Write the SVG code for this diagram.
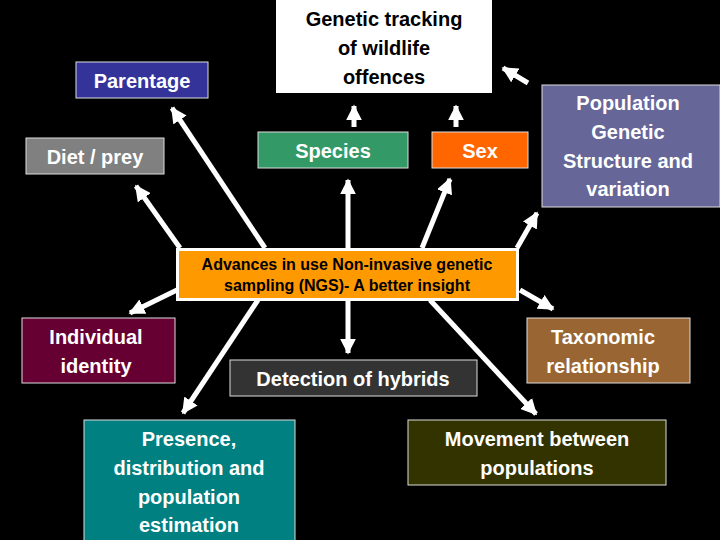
<svg xmlns="http://www.w3.org/2000/svg" width="720" height="540" viewBox="0 0 720 540">
<defs>
<marker id="ah" viewBox="0 0 10 10" refX="9" refY="5" markerWidth="3.2" markerHeight="3.2" orient="auto" markerUnits="strokeWidth"><path d="M0,0L10,5L0,10z" fill="#fff"/></marker>
<style>
.b{stroke:#ddd;stroke-width:1}
.t{font-family:"Liberation Sans",Arial,sans-serif;font-weight:bold;font-size:20px;text-anchor:middle;fill:#fff}
.c line{stroke:#fff;stroke-width:5;marker-end:url(#ah)}
</style>
</defs>
<rect width="720" height="540" fill="#000"/>
<g class="c" id="connectors">
<line x1="265" y1="248" x2="172" y2="108"/>
<line x1="180" y1="248" x2="136" y2="186"/>
<line x1="348" y1="248" x2="348" y2="180"/>
<line x1="422" y1="248" x2="450" y2="179"/>
<line x1="354" y1="127" x2="354" y2="106"/>
<line x1="456" y1="127" x2="456" y2="106"/>
<line x1="517" y1="248" x2="537" y2="213"/>
<line x1="528" y1="83" x2="503" y2="68"/>
<line x1="177" y1="290" x2="130" y2="313"/>
<line x1="258" y1="300" x2="183" y2="413"/>
<line x1="348" y1="300" x2="348" y2="353"/>
<line x1="430" y1="300" x2="536" y2="414"/>
<line x1="520" y1="290" x2="553" y2="309"/>
</g>
<g id="tracking"><rect x="276" y="0" width="216" height="93" fill="#fff"/>
<text class="t" fill="#000" style="fill:#000"><tspan x="384" y="26">Genetic tracking</tspan><tspan x="384" y="55">of wildlife</tspan><tspan x="384" y="84">offences</tspan></text></g>
<g id="parentage"><rect class="b" x="76" y="62" width="132" height="36" fill="#333399"/><text class="t" x="142" y="88">Parentage</text></g>
<g id="diet"><rect class="b" x="26" y="138" width="138" height="36" fill="#808080"/><text class="t" x="95" y="164">Diet / prey</text></g>
<g id="species"><rect class="b" x="258" y="132" width="150" height="36" fill="#339966"/><text class="t" x="333" y="158">Species</text></g>
<g id="sex"><rect class="b" x="432" y="132" width="96" height="36" fill="#ff6600"/><text class="t" x="480" y="158">Sex</text></g>
<g id="population"><rect class="b" x="542" y="85" width="178" height="122" fill="#666699"/>
<text class="t"><tspan x="628" y="110">Population</tspan><tspan x="628" y="139">Genetic</tspan><tspan x="628" y="168">Structure and</tspan><tspan x="628" y="196">variation</tspan></text></g>
<g id="center"><rect x="177.5" y="249.5" width="340" height="50" fill="#ff9900" stroke="#fff" stroke-width="3"/>
<text class="t" style="fill:#000;font-size:16px"><tspan x="347" y="270">Advances in use Non-invasive genetic</tspan><tspan x="347" y="291">sampling (NGS)- A better insight</tspan></text></g>
<g id="individual"><rect class="b" x="22" y="318" width="153" height="65" fill="#660033"/>
<text class="t"><tspan x="96" y="344">Individual</tspan><tspan x="96" y="373">identity</tspan></text></g>
<g id="hybrids"><rect class="b" x="230" y="360" width="247" height="36" fill="#333333"/><text class="t" x="353" y="386">Detection of hybrids</text></g>
<g id="taxonomic"><rect class="b" x="527" y="318" width="163" height="65" fill="#996633"/>
<text class="t"><tspan x="603" y="344">Taxonomic</tspan><tspan x="603" y="373">relationship</tspan></text></g>
<g id="presence"><rect class="b" x="84" y="420" width="211" height="125" fill="#008080"/>
<text class="t"><tspan x="189" y="446">Presence,</tspan><tspan x="189" y="475">distribution and</tspan><tspan x="189" y="504">population</tspan><tspan x="189" y="532">estimation</tspan></text></g>
<g id="movement"><rect class="b" x="408" y="420" width="258" height="65" fill="#333300"/>
<text class="t"><tspan x="537" y="446">Movement between</tspan><tspan x="537" y="475">populations</tspan></text></g>
</svg>
